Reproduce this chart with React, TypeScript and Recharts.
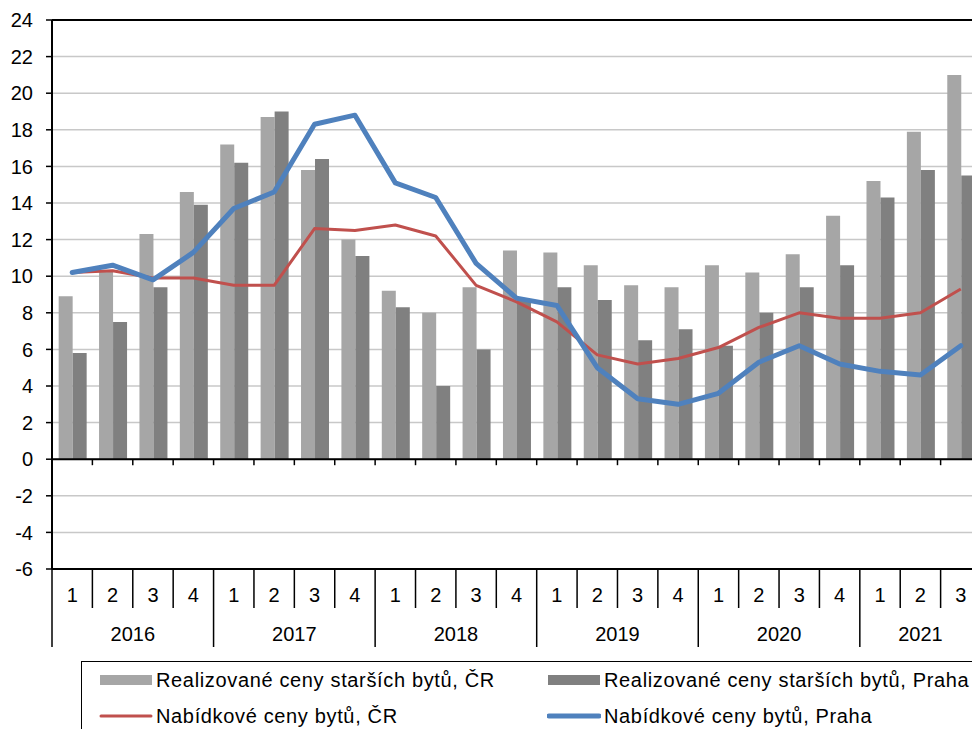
import React from 'react';
import { ComposedChart, Bar, Line, XAxis, YAxis, CartesianGrid, ReferenceLine, Legend } from 'recharts';

const quarters = ['1','2','3','4','1','2','3','4','1','2','3','4','1','2','3','4','1','2','3','4','1','2','3'];
const years = [2016,2016,2016,2016,2017,2017,2017,2017,2018,2018,2018,2018,2019,2019,2019,2019,2020,2020,2020,2020,2021,2021,2021];

const realCR = [8.9,10.3,12.3,14.6,17.2,18.7,15.8,12.0,9.2,8.0,9.4,11.4,11.3,10.6,9.5,9.4,10.6,10.2,11.2,13.3,15.2,17.9,21.0];
const realPraha = [5.8,7.5,9.4,13.9,16.2,19.0,16.4,11.1,8.3,4.0,6.0,8.7,9.4,8.7,6.5,7.1,6.2,8.0,9.4,10.6,14.3,15.8,15.5];
const offerCR = [10.2,10.3,9.9,9.9,9.5,9.5,12.6,12.5,12.8,12.2,9.5,8.6,7.5,5.7,5.2,5.5,6.1,7.2,8.0,7.7,7.7,8.0,9.3];
const offerPraha = [10.2,10.6,9.8,11.3,13.7,14.6,18.3,18.8,15.1,14.3,10.7,8.8,8.4,5.0,3.3,3.0,3.6,5.3,6.2,5.2,4.8,4.6,6.2];

const yTicks = [-6,-4,-2,0,2,4,6,8,10,12,14,16,18,20,22,24];

const NAME_REAL_CR = 'Realizované ceny starších bytů, ČR';
const NAME_REAL_PRAHA = 'Realizované ceny starších bytů, Praha';
const NAME_OFFER_CR = 'Nabídkové ceny bytů, ČR';
const NAME_OFFER_PRAHA = 'Nabídkové ceny bytů, Praha';

const C_LIGHT = '#a6a6a6';
const C_DARK = '#808080';
const C_RED = '#c0504d';
const C_BLUE = '#4f81bd';

const FONT = '"Liberation Sans", Arial, sans-serif';

const CHART_W = 1000;
const CHART_H = 729;
const MARGIN = { top: 20, right: 19, bottom: 0, left: 0 };
const Y_AXIS_W = 52;
const X_AXIS_H = 160;
const PLOT_W = CHART_W - MARGIN.left - MARGIN.right - Y_AXIS_W;
const BAND = PLOT_W / quarters.length;

const data = quarters.map((q, i) => ({
  key: `${years[i]}-${q}`,
  realCR: realCR[i],
  realPraha: realPraha[i],
  offerCR: offerCR[i],
  offerPraha: offerPraha[i],
}));

const XTick = (props: any) => {
  const { x, y } = props;
  const i: number = props.index ?? props.payload?.index ?? 0;
  const yr = years[i];
  const left = x - BAND / 2;
  const isYearStart = i === 0 || years[i - 1] !== yr;
  const count = years.filter((v) => v === yr).length;
  return (
    <g>
      <line x1={left} x2={left} y1={y} y2={y + (isYearStart ? 78 : 39)} stroke="#000" strokeWidth={1.5} />
      <text x={x} y={y + 33} textAnchor="middle" fontSize={20} fill="#000" fontFamily={FONT}>
        {quarters[i]}
      </text>
      {isYearStart && (
        <text x={left + (count * BAND) / 2} y={y + 72} textAnchor="middle" fontSize={20} fill="#000" fontFamily={FONT}>
          {yr}
        </text>
      )}
    </g>
  );
};

const ZeroLine = (props: any) => {
  const { x1, x2, y1 } = props;
  if (x1 == null || y1 == null) return null;
  const n = quarters.length;
  const band = (x2 - x1) / n;
  const ticks = [];
  for (let k = 1; k < n; k++) {
    ticks.push(<line key={k} x1={x1 + k * band} x2={x1 + k * band} y1={y1} y2={y1 + 6} stroke="#000" strokeWidth={1.5} />);
  }
  return (
    <g>
      <line x1={x1} x2={x2} y1={y1} y2={y1} stroke="#000" strokeWidth={2} />
      {ticks}
    </g>
  );
};

const legendItems = [
  { name: NAME_REAL_CR, kind: 'bar', color: C_LIGHT, w: 0 },
  { name: NAME_REAL_PRAHA, kind: 'bar', color: C_DARK, w: 0 },
  { name: NAME_OFFER_CR, kind: 'line', color: C_RED, w: 3 },
  { name: NAME_OFFER_PRAHA, kind: 'line', color: C_BLUE, w: 5 },
];

const renderLegend = () => (
  <div
    style={{
      position: 'relative',
      width: 960,
      height: 90,
      border: '1.5px solid #000',
      boxSizing: 'border-box',
      background: '#fff',
      fontFamily: FONT,
      fontSize: 20,
      color: '#000',
    }}
  >
    {legendItems.map((it, i) => {
      const col = i % 2;
      const row = Math.floor(i / 2);
      const left = col === 0 ? 17 : 465;
      const cy = row === 0 ? 18 : 54;
      return (
        <div key={it.name} style={{ position: 'absolute', left, top: cy - 13, height: 26, display: 'flex', alignItems: 'center', whiteSpace: 'nowrap' }}>
          <svg width={54} height={26} style={{ display: 'block' }}>
            {it.kind === 'bar' ? (
              <rect x={1} y={8} width={52} height={10} fill={it.color} />
            ) : (
              <line x1={2} x2={52} y1={13} y2={13} stroke={it.color} strokeWidth={it.w} strokeLinecap="round" />
            )}
          </svg>
          <span style={{ marginLeft: 3, letterSpacing: 0.65, lineHeight: '26px' }}>{it.name}</span>
        </div>
      );
    })}
  </div>
);

export default function App() {
  return (
    <div style={{ position: 'absolute', left: 0, top: 0, width: 972, height: 729, overflow: 'hidden', background: '#fff' }}>
      <ComposedChart
        width={CHART_W}
        height={CHART_H}
        data={data}
        margin={MARGIN}
        barGap={0}
        barCategoryGap="16.5%"
        style={{ fontFamily: FONT }}
      >
        <CartesianGrid vertical={false} stroke="#c8c8c8" strokeWidth={1.5} />
        <XAxis
          dataKey="key"
          height={X_AXIS_H}
          interval={0}
          tickLine={false}
          tickSize={0}
          tickMargin={0}
          axisLine={{ stroke: '#000', strokeWidth: 2 }}
          tick={<XTick />}
        />
        <YAxis
          width={Y_AXIS_W}
          domain={[-6, 24]}
          ticks={yTicks}
          interval={0}
          tickSize={6}
          tickMargin={13}
          axisLine={{ stroke: '#000', strokeWidth: 2 }}
          tickLine={{ stroke: '#000', strokeWidth: 1.5 }}
          tick={{ fill: '#000', fontSize: 20, fontFamily: FONT }}
          allowDataOverflow
        />
        <Bar dataKey="realCR" name={NAME_REAL_CR} fill={C_LIGHT} isAnimationActive={false} />
        <Bar dataKey="realPraha" name={NAME_REAL_PRAHA} fill={C_DARK} isAnimationActive={false} />
        <ReferenceLine y={24} stroke="#000" strokeWidth={2} />
        <ReferenceLine y={0} shape={<ZeroLine />} />
        <Line dataKey="offerCR" name={NAME_OFFER_CR} stroke={C_RED} strokeWidth={3} dot={false} activeDot={false} strokeLinejoin="round" isAnimationActive={false} />
        <Line dataKey="offerPraha" name={NAME_OFFER_PRAHA} stroke={C_BLUE} strokeWidth={5} dot={false} activeDot={false} strokeLinejoin="round" strokeLinecap="round" isAnimationActive={false} />
        <Legend
          layout="horizontal"
          verticalAlign="middle"
          align="center"
          content={renderLegend}
          wrapperStyle={{ top: 661, left: 81, width: 960 }}
        />
      </ComposedChart>
    </div>
  );
}
